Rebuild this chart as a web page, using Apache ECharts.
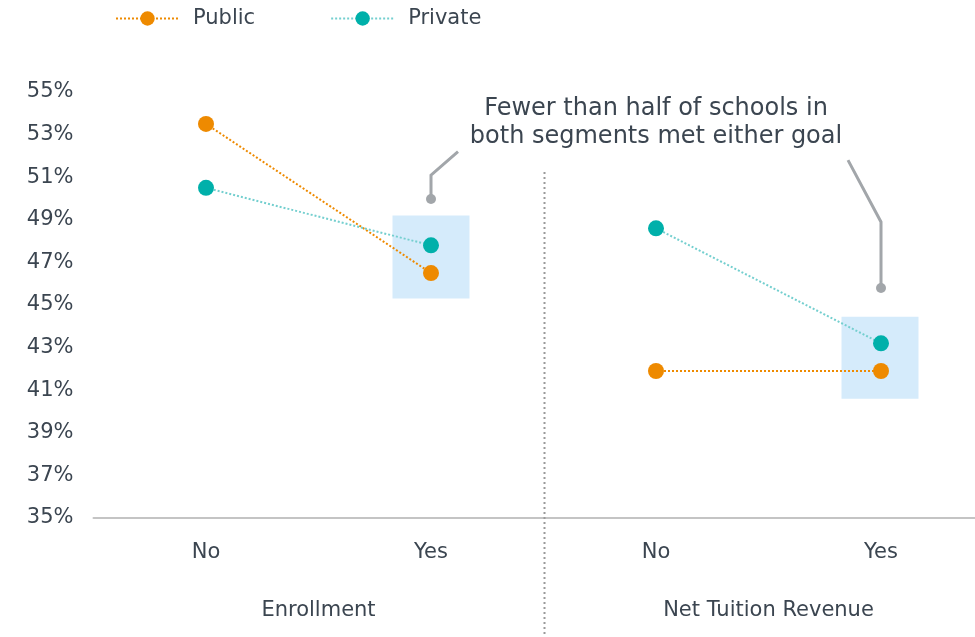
<!DOCTYPE html>
<html>
<head>
<meta charset="utf-8">
<style>
  html, body { margin: 0; padding: 0; background: #fff; }
  #chart { width: 975px; height: 637px; }
</style>
<script src="https://cdn.jsdelivr.net/npm/echarts@6/dist/echarts.min.js"></script>
</head>
<body>
<div id="chart"></div>
<script>
// Share of schools (%) by whether they met each goal
const categories = ['No', 'Yes', 'No', 'Yes'];
const groups = ['Enrollment', 'Net Tuition Revenue'];
const publicEnrollment = [53.5, 46.5, '-', '-'];
const publicTuition = ['-', '-', 41.9, 41.9];
const privateEnrollment = [50.5, 47.8, '-', '-'];
const privateTuition = ['-', '-', 48.6, 43.2];
const yMin = 35, yMax = 55, yStep = 2;
const noteLines = ['Fewer than half of schools in', 'both segments met either goal'];

const TEXT = '#3b4550';
const ORANGE = '#EE8A00';
const TEAL = '#00B0AA';
const TEAL_LINE = '#74CFCF';
const FONT = 'DejaVu Sans';

const chart = echarts.init(document.getElementById('chart'));

function lineSeries(name, data, color, lineColor) {
  return {
    name, type: 'line', data,
    symbol: 'circle', symbolSize: 16,
    itemStyle: { color },
    lineStyle: { color: lineColor, width: 2, type: 'dotted' },
    emphasis: { disabled: true },
    z: 3
  };
}

chart.setOption({
  animation: false,
  textStyle: { fontFamily: FONT, color: TEXT },
  legend: {
    left: 115, top: 8, padding: 0,
    itemWidth: 63, itemHeight: 18, itemGap: 75,
    textStyle: { fontSize: 21, color: TEXT, padding: [0, 0, 0, 9] },
    data: ['Public', 'Private']
  },
  // the plot runs past the right edge of the canvas
  grid: { left: 93.5, width: 900, top: 92, bottom: 119, outerBoundsMode: 'none', containLabel: false },
  xAxis: [
    {
      type: 'category', data: categories,
      axisLine: { lineStyle: { color: '#c4c4c4', width: 2 } },
      axisTick: { show: false },
      axisLabel: { fontSize: 21, color: TEXT, margin: 24 }
    },
    {
      type: 'category', data: groups, position: 'bottom', offset: 58,
      axisLine: { show: false }, axisTick: { show: false },
      axisLabel: { fontSize: 21, color: TEXT, margin: 24 }
    }
  ],
  yAxis: {
    type: 'value', min: yMin, max: yMax, interval: yStep,
    axisLine: { show: false }, axisTick: { show: false },
    splitLine: { show: false },
    axisLabel: { fontSize: 21, color: TEXT, margin: 20, padding: [4, 0, 0, 0], formatter: '{value}%' }
  },
  series: [
    lineSeries('Public', publicEnrollment, ORANGE, ORANGE),
    lineSeries('Private', privateEnrollment, TEAL, TEAL_LINE),
    lineSeries('Public', publicTuition, ORANGE, ORANGE),
    lineSeries('Private', privateTuition, TEAL, TEAL_LINE)
  ]
});

// Highlight boxes, divider and callout drawn over the plot
function drawOverlay() {
  const px = (x, y) => chart.convertToPixel({ gridIndex: 0 }, [x, y]);
  const els = [];

  // highlight boxes around the "Yes" points
  const boxes = [
    { cat: 1, top: 49.2, bottom: 45.3, dx: 0 },
    { cat: 3, top: 44.45, bottom: 40.6, dx: -1 }
  ];
  boxes.forEach(b => {
    const p1 = px(b.cat, b.top), p2 = px(b.cat, b.bottom);
    els.push({
      type: 'rect', z: 1, silent: true,
      shape: { x: p1[0] - 38.5 + b.dx, y: p1[1], width: 77, height: p2[1] - p1[1] },
      style: { fill: '#d5ebfb' }
    });
  });

  // group divider
  const a = px(1, 0), c = px(2, 51.25);
  const midX = Math.round((a[0] + c[0]) / 2) + 0.5;
  els.push({
    type: 'line', z: 1, silent: true,
    shape: { x1: midX, y1: c[1], x2: midX, y2: 637 },
    style: { stroke: '#9a9a9a', lineWidth: 2, lineDash: [2, 3] }
  });

  // note text
  const t = px(2, 0);
  const top = px(0, 53.55)[1];
  els.push({
    type: 'text', z: 5, silent: true,
    style: {
      x: t[0], y: top, text: noteLines.join('\n'),
      font: '24px "' + FONT + '"', fill: TEXT,
      align: 'center', verticalAlign: 'middle', lineHeight: 28
    }
  });

  // callout leaders
  const leaders = [
    { cat: 1, dot: 49.98, bend: 51.1, end: 52.2, endDx: 27 },
    { cat: 3, dot: 45.8, bend: 48.9, end: 51.8, endDx: -33 }
  ];
  leaders.forEach(l => {
    const d = px(l.cat, l.dot), b = px(l.cat, l.bend), e = px(l.cat, l.end);
    els.push({
      type: 'polyline', z: 5, silent: true,
      shape: { points: [[e[0] + l.endDx, e[1]], [b[0], b[1]], [d[0], d[1]]] },
      style: { stroke: '#a2a6aa', lineWidth: 3, fill: null }
    });
    els.push({
      type: 'circle', z: 5, silent: true,
      shape: { cx: d[0], cy: d[1], r: 5 },
      style: { fill: '#a2a6aa' }
    });
  });

  chart.setOption({ graphic: { elements: els } });
}
drawOverlay();
</script>
</body>
</html>
